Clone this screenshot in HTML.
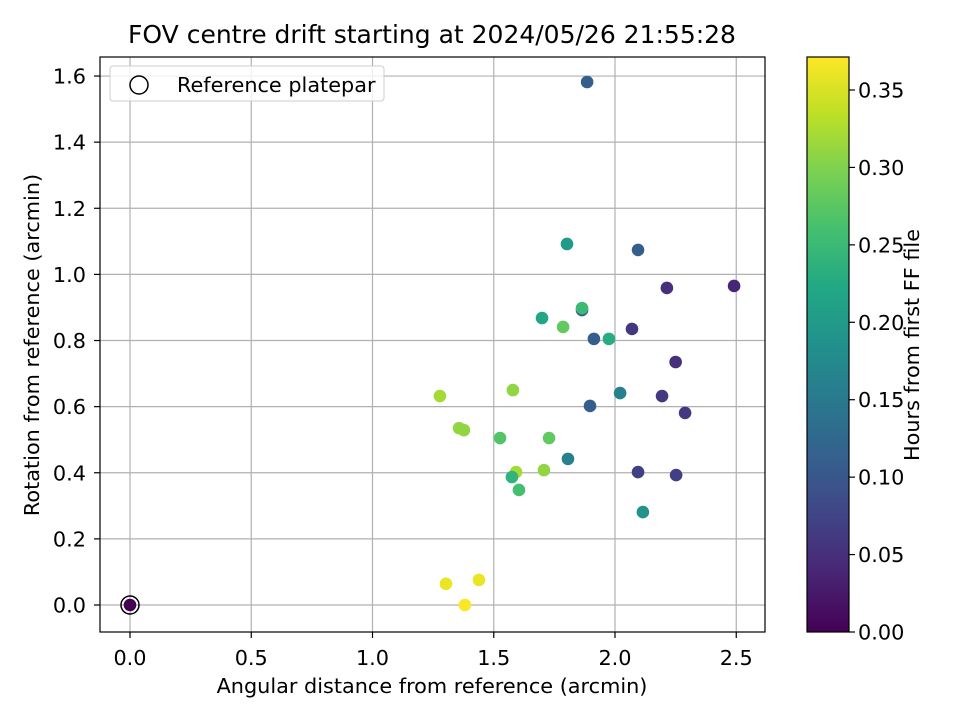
<!DOCTYPE html>
<html><head><meta charset="utf-8"><style>
html,body{margin:0;padding:0;background:#fff;}
svg{display:block;font-family:"DejaVu Sans","Liberation Sans",sans-serif;}
</style></head><body>
<svg id="chart" width="960" height="720" viewBox="0 0 960 720" xmlns="http://www.w3.org/2000/svg">
<defs><linearGradient id="vir" x1="0" y1="1" x2="0" y2="0"></linearGradient></defs>
<rect width="960" height="720" fill="#fff"/>
<text x="432" y="43" font-size="25" text-anchor="middle">FOV centre drift starting at 2024/05/26 21:55:28</text>
<g id="grid"></g><g id="ticks"></g><g id="pts"></g>
<rect x="100" y="57" width="665" height="575" fill="none" stroke="#000" stroke-width="1.2"/>
<text x="432" y="693" font-size="20.8" text-anchor="middle">Angular distance from reference (arcmin)</text>
<text transform="translate(39,345) rotate(-90)" font-size="20.8" text-anchor="middle">Rotation from reference (arcmin)</text>
<g>
<rect x="110" y="66" width="274" height="35" rx="3" fill="#fff" fill-opacity="0.8" stroke="#ccc"/>
<circle cx="139" cy="85" r="9" fill="none" stroke="#000" stroke-width="1.5"/>
<text x="177" y="92" font-size="20.8">Reference platepar</text>
</g>
<rect x="807" y="57" width="42" height="575" fill="url(#vir)" stroke="#000" stroke-width="1.2"/>
<g id="cbt"></g>
<text transform="translate(919,345) rotate(-90)" font-size="20.8" text-anchor="middle">Hours from first FF file</text>
</svg>
<script>
const xTicks=[0,0.5,1,1.5,2,2.5];
const yTicks=[0,0.2,0.4,0.6,0.8,1.0,1.2,1.4,1.6];
const cTicks=[0,0.05,0.1,0.15,0.2,0.25,0.3,0.35];
const xs=[1.885,1.802,2.095,2.214,2.491,1.699,1.864,1.864,1.786,1.913,1.975,2.070,2.25,1.278,1.579,2.021,1.897,2.194,2.289,1.357,1.377,1.526,1.728,1.806,1.592,1.707,1.575,2.095,2.252,1.604,2.115,1.303,1.439,1.381,0];
const ys=[1.582,1.092,1.074,0.959,0.965,0.868,0.892,0.898,0.841,0.805,0.805,0.835,0.735,0.632,0.650,0.641,0.602,0.632,0.581,0.535,0.529,0.505,0.505,0.442,0.402,0.408,0.387,0.402,0.393,0.348,0.281,0.064,0.076,0.0,0];
const hrs=[0.11,0.2,0.11,0.05,0.04,0.22,0.11,0.25,0.28,0.11,0.23,0.06,0.05,0.32,0.31,0.16,0.11,0.06,0.06,0.31,0.31,0.27,0.28,0.16,0.32,0.31,0.24,0.07,0.07,0.26,0.19,0.36,0.36,0.37,0];
const NS="http://www.w3.org/2000/svg";
const X=v=>130+v*242.5, Y=v=>605-v*330.6, CB=v=>632-v*1548.6, CMAX=0.3713;
const vstops=["#440154","#482475","#414487","#355f8d","#2a788e","#21918c","#22a884","#44bf70","#7ad151","#bddf26","#fde725"];
function hex(h){return [1,3,5].map(i=>parseInt(h.substr(i,2),16));}
function vir(t){t=Math.max(0,Math.min(1,t));const f=t*10,i=Math.min(9,Math.floor(f)),r=f-i;const a=hex(vstops[i]),b=hex(vstops[i+1]);return "rgb("+a.map((c,k)=>Math.round(c+(b[k]-c)*r)).join(",")+")";}
function mk(tag,attrs,parent,txt){const e=document.createElementNS(NS,tag);for(const k in attrs)e.setAttribute(k,attrs[k]);if(txt!==undefined)e.textContent=txt;parent.appendChild(e);return e;}
const grid=document.getElementById('grid'),ticks=document.getElementById('ticks'),pts=document.getElementById('pts'),cbt=document.getElementById('cbt');
const g=document.getElementById('vir');
vstops.forEach((c,i)=>mk('stop',{offset:(i/10*100)+'%','stop-color':c},g));
xTicks.forEach(v=>{const x=X(v);
 const l=mk('line',{x1:x,x2:x,y1:57,y2:632,stroke:'#b0b0b0','stroke-width':1.2},grid);
 
 mk('line',{x1:x,x2:x,y1:632,y2:638,stroke:'#000','stroke-width':1.2},ticks);
 const t=mk('text',{x:x,y:665,'font-size':20.8,'text-anchor':'middle'},ticks,v.toFixed(1));
 });
yTicks.forEach(v=>{const y=Y(v);
 const l=mk('line',{x1:100,x2:765,y1:y,y2:y,stroke:'#b0b0b0','stroke-width':1.2},grid);
 
 mk('line',{x1:94,x2:100,y1:y,y2:y,stroke:'#000','stroke-width':1.2},ticks);
 const t=mk('text',{x:86,y:y+7.5,'font-size':20.8,'text-anchor':'end'},ticks,v.toFixed(1));
 });
cTicks.forEach(v=>{const y=CB(v);
 mk('line',{x1:849,x2:855,y1:y,y2:y,stroke:'#000','stroke-width':1.2},cbt);
 const t=mk('text',{x:858,y:y+7.5,'font-size':20.8},cbt,v.toFixed(2));
 });
xs.forEach((v,i)=>{const c=mk('circle',{cx:X(v),cy:Y(ys[i]),r:6.3,fill:vir(hrs[i]/CMAX)},pts);
 });
const ref=mk('circle',{cx:X(0),cy:Y(0),r:9,fill:'none',stroke:'#000','stroke-width':1.5},pts);


</script>
</body></html>
